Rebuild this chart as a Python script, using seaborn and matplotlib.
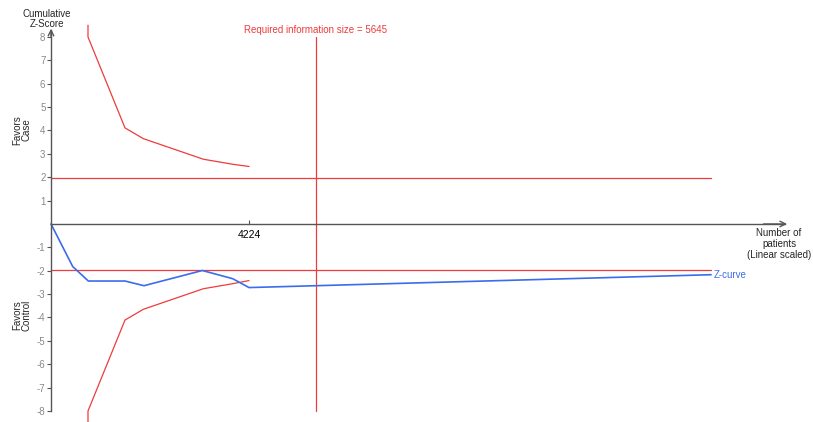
import matplotlib
matplotlib.use("Agg")
import matplotlib.pyplot as plt
import seaborn as sns
import pandas as pd

sns.set_style("white")
plt.rcParams["font.family"] = ["Liberation Sans", "DejaVu Sans"]

# Data (number of patients, cumulative Z)
bound_n = [789, 789, 1578, 1969, 3249, 3889, 4224]
upper_z = [8.5, 8.0, 4.11, 3.65, 2.77, 2.55, 2.46]
lower_z = [-8.5, -8.0, -4.11, -3.65, -2.77, -2.55, -2.42]
zcurve_n = [0, 463, 796, 1578, 1984, 3228, 3875, 4224, 14080]
zcurve_z = [0, -1.82, -2.44, -2.44, -2.64, -1.99, -2.34, -2.72, -2.17]
conv_n = [0, 14080]
conv_z = 1.96
ris = 5645
y_ticks = [-8, -7, -6, -5, -4, -3, -2, -1, 1, 2, 3, 4, 5, 6, 7, 8]
x_ticks = [4224]

RED = "#ee3b3b"
BLUE = "#3b6cee"

fig = plt.figure(figsize=(8.13, 4.22), dpi=100)
ax = fig.add_axes([0, 0, 1, 1])
ax.set_xlim(-1088, 16254)
ax.set_ylim(-8.47, 9.58)

df_up = pd.DataFrame({"n": bound_n, "z": upper_z})
df_lo = pd.DataFrame({"n": bound_n, "z": lower_z})
df_zc = pd.DataFrame({"n": zcurve_n, "z": zcurve_z})

lw = 0.9
sns.lineplot(data=df_up, x="n", y="z", sort=False, color=RED, lw=lw, ax=ax, estimator=None)
sns.lineplot(data=df_lo, x="n", y="z", sort=False, color=RED, lw=lw, ax=ax, estimator=None)
ax.plot(conv_n, [conv_z, conv_z], color=RED, lw=lw)
ax.plot(conv_n, [-conv_z, -conv_z], color=RED, lw=lw)
ax.plot([ris, ris], [-8, 8], color=RED, lw=lw)
sns.lineplot(data=df_zc, x="n", y="z", sort=False, color=BLUE, lw=1.2, ax=ax, estimator=None)

# axes spines
for s in ["top", "right"]:
    ax.spines[s].set_visible(False)
ax.spines["left"].set_position(("data", 0))
ax.spines["bottom"].set_position(("data", 0))
ax.spines["left"].set_bounds(-8, 8.3)
ax.spines["bottom"].set_bounds(0, 15660)
ax.spines["left"].set_color("#555555")
ax.spines["bottom"].set_color("#555555")
ax.spines["left"].set_linewidth(1.0)
ax.spines["bottom"].set_linewidth(1.0)

ax.annotate("", xy=(0, 8.35), xytext=(0, 8.0),
            arrowprops=dict(arrowstyle="->", color="#555555", lw=1.0, shrinkA=0, shrinkB=0))
ax.annotate("", xy=(15700, 0), xytext=(15200, 0),
            arrowprops=dict(arrowstyle="->", color="#555555", lw=1.0, shrinkA=0, shrinkB=0))

ax.set_yticks(y_ticks)
ax.set_yticklabels([str(t) for t in y_ticks])
ax.tick_params(axis="y", direction="out", length=3, width=0.8, colors="#555555",
               labelcolor="#888888", labelsize=7, pad=1, left=True)
ax.set_xticks(x_ticks)
ax.set_xticklabels([str(t) for t in x_ticks])
ax.tick_params(axis="x", direction="in", length=3, width=0.8, colors="#555555",
               labelcolor="black", labelsize=7.5, pad=4, bottom=True)
ax.set_xlabel("")
ax.set_ylabel("")

# text annotations
ax.text(-85, 8.75, "Cumulative\nZ-Score", ha="center", va="center", fontsize=7,
        linespacing=1.0)
ax.text(-1088 + 22 * 21.33, (224 - 130) / 23.375, "Favors\nCase", rotation=90,
        ha="center", va="center", fontsize=7, linespacing=1.0)
ax.text(-1088 + 22 * 21.33, (224 - 315) / 23.375, "Favors\nControl", rotation=90,
        ha="center", va="center", fontsize=7, linespacing=1.0)
ax.text(15530, -0.86, "Number of\npatients\n(Linear scaled)", ha="center", va="center",
        fontsize=7, linespacing=1.1)
ax.text(14130, zcurve_z[-1], "Z-curve", ha="left", va="center", fontsize=7, color=BLUE)
ax.text(ris, 8.3, f"Required information size = {ris}", ha="center", va="center",
        fontsize=7, color=RED)

fig.savefig("out.png", dpi=100)
